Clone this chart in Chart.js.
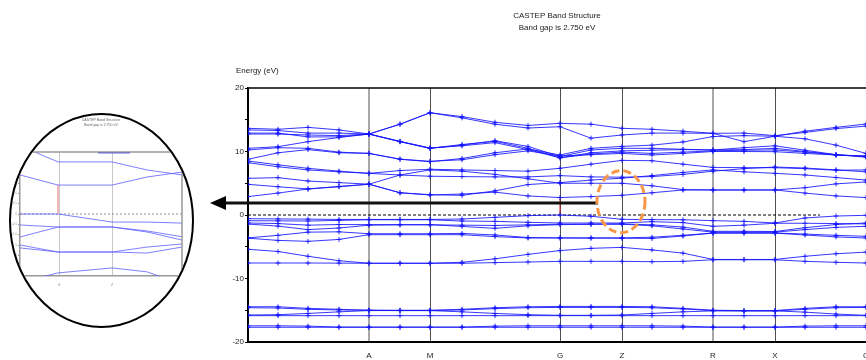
<!DOCTYPE html>
<html>
<head>
<meta charset="utf-8">
<title>CASTEP Band Structure</title>
<script src="https://cdn.jsdelivr.net/npm/chart.js@4.4.1/dist/chart.umd.min.js"></script>
<style>
  html, body { margin: 0; padding: 0; overflow: hidden; background: #fff; }
  #wrap { position: relative; width: 866px; height: 360px; overflow: hidden; }
  #main { position: absolute; left: 0; top: 0; }
  #ylabel { position: absolute; left: 236px; top: 66px; font: 8px 'Liberation Sans', Arial, sans-serif; color: #222; white-space: nowrap; }
  #inset { position: absolute; left: 9px; top: 113px; width: 181px; height: 211px; border: 2px solid #000; border-radius: 50%; overflow: hidden; background: #fff; }
  #insetChart { position: absolute; left: 0; top: 0; }
</style>
</head>
<body>
<div id="wrap">
  <canvas id="main" width="880" height="360"></canvas>
  <div id="ylabel">Energy (eV)</div>
  <div id="inset"><canvas id="insetChart" width="181" height="211"></canvas></div>
</div>
<script>
// k-path: high symmetry points and the sampled k positions
const kPos = [0, 121, 182, 312, 374, 465, 527, 618];
const kLabels = ['', 'A', 'M', 'G', 'Z', 'R', 'X', 'G'];
const kGrid = [0, 30, 60, 91, 121, 152, 182, 214, 247, 280, 312, 343, 374, 404, 435, 465, 496, 527, 557, 588, 618];

// conduction bands (eV)
const bandC1 = [13.65, 13.5, 13.8, 13.4, 12.75, 14.3, 16.1, 15.5, 14.6, 14.1, 14.44, 14.3, 13.65, 13.5, 13.2, 12.86, 11.55, 12.4, 13.2, 13.8, 14.33];
const bandC2 = [13.4, 13.3, 12.9, 12.9, 12.75, 11.55, 10.5, 11.0, 11.7, 10.8, 9.2, 10.24, 10.5, 10.5, 10.35, 10.24, 10.6, 10.9, 10.2, 9.5, 9.1];
const bandC3 = [12.9, 12.9, 12.3, 12.3, 12.75, 14.3, 16.1, 15.3, 14.3, 13.7, 13.9, 12.1, 12.6, 12.9, 12.9, 12.86, 12.9, 12.5, 13.0, 13.6, 14.0];
const bandC4 = [12.75, 12.75, 12.6, 12.5, 12.75, 11.55, 10.5, 11.1, 11.6, 10.5, 9.0, 9.8, 10.1, 10.2, 10.3, 10.24, 10.3, 10.5, 10.0, 9.5, 9.2];
const bandC5 = [10.5, 10.76, 11.55, 12.2, 12.75, 11.6, 10.55, 10.9, 11.4, 10.3, 9.0, 9.6, 9.9, 9.7, 9.9, 10.1, 10.2, 10.24, 9.9, 9.45, 9.25];
const bandC6 = [10.24, 10.6, 10.5, 9.9, 9.7, 8.77, 8.4, 8.9, 9.8, 10.4, 9.45, 10.5, 10.8, 11.0, 11.5, 12.35, 12.5, 12.4, 12.0, 11.0, 9.7];
const bandC7 = [8.77, 9.8, 10.3, 9.8, 9.7, 8.8, 8.45, 8.7, 9.5, 10.1, 9.3, 9.5, 9.7, 9.45, 9.7, 10.0, 10.0, 9.97, 9.7, 9.45, 9.3];
const bandC8 = [8.5, 7.9, 7.35, 6.9, 6.56, 7.0, 7.2, 7.1, 7.0, 6.9, 7.35, 8.0, 8.6, 8.55, 8.0, 7.5, 7.45, 7.45, 7.3, 7.05, 7.1];
const bandC9 = [8.24, 7.6, 7.1, 6.8, 6.56, 6.3, 6.1, 6.05, 6.0, 6.0, 6.2, 6.0, 5.95, 6.05, 6.4, 6.9, 7.3, 7.55, 7.4, 7.1, 6.8];
const bandC10 = [5.78, 5.88, 5.35, 5.1, 4.85, 6.3, 7.1, 6.9, 6.4, 5.7, 5.0, 5.0, 5.0, 4.6, 4.0, 3.94, 3.94, 3.94, 4.3, 4.9, 5.2];
const bandC11 = [4.83, 4.45, 4.1, 4.5, 4.85, 3.5, 3.15, 3.3, 3.6, 3.0, 2.75, 2.9, 3.1, 3.5, 3.94, 3.94, 3.94, 3.94, 3.45, 3.0, 2.75];
const bandC12 = [2.9, 3.45, 4.1, 4.45, 4.85, 3.5, 3.2, 3.1, 3.8, 4.8, 5.1, 5.5, 5.8, 6.2, 6.7, 7.1, 6.8, 6.56, 6.3, 5.9, 5.5];

// valence bands (eV)
const bandV1 = [-0.58, -0.62, -0.65, -0.7, -0.7, -0.7, -0.7, -0.63, -0.37, -0.1, 0.0, -0.2, -0.68, -0.73, -0.75, -0.89, -1.0, -1.26, -0.47, -0.16, -0.05];
const bandV2 = [-0.9, -0.92, -0.95, -0.85, -0.75, -0.75, -0.75, -0.95, -1.0, -1.15, -1.26, -1.26, -1.26, -1.05, -1.2, -1.78, -1.6, -1.3, -1.3, -1.35, -1.4];
const bandV3 = [-1.26, -1.35, -1.6, -1.5, -1.52, -1.52, -1.52, -1.8, -2.1, -1.7, -1.52, -1.45, -1.4, -1.55, -1.9, -2.57, -2.57, -2.6, -2.0, -1.5, -1.26];
const bandV4 = [-1.42, -1.75, -2.3, -2.05, -1.6, -1.55, -1.55, -1.6, -1.65, -1.55, -1.45, -1.45, -1.45, -1.7, -2.2, -2.7, -2.7, -2.7, -2.3, -1.95, -1.78];
const bandV5 = [-3.6, -3.2, -2.7, -2.65, -2.95, -2.95, -2.95, -2.9, -3.15, -3.55, -3.6, -3.6, -3.6, -3.5, -3.2, -2.83, -2.83, -2.83, -3.0, -3.2, -3.36];
const bandV6 = [-3.65, -4.0, -4.15, -3.85, -3.1, -3.1, -3.1, -3.1, -3.4, -3.62, -3.62, -3.65, -3.65, -3.7, -3.3, -2.85, -2.85, -2.85, -3.15, -3.45, -3.62];
const bandV7 = [-5.4, -5.75, -6.5, -7.2, -7.6, -7.6, -7.6, -7.45, -6.9, -6.2, -5.6, -5.25, -5.1, -5.5, -6.0, -7.0, -7.0, -7.0, -6.5, -6.1, -5.85];
const bandV8 = [-7.56, -7.56, -7.56, -7.58, -7.6, -7.6, -7.6, -7.6, -7.5, -7.4, -7.3, -7.3, -7.3, -7.35, -7.3, -7.05, -7.05, -7.05, -7.3, -7.45, -7.56];

// semicore bands (eV)
const bandD1 = [-14.45, -14.45, -14.7, -14.85, -15.0, -15.0, -15.0, -14.85, -14.6, -14.45, -14.4, -14.4, -14.4, -14.45, -14.7, -15.0, -15.05, -15.05, -14.7, -14.45, -14.45];
const bandD2 = [-14.6, -14.65, -14.85, -14.95, -15.0, -15.05, -15.05, -14.95, -14.75, -14.6, -14.55, -14.55, -14.55, -14.6, -14.8, -15.05, -15.1, -15.1, -14.85, -14.6, -14.55];
const bandD3 = [-15.75, -15.7, -15.5, -15.25, -15.05, -15.05, -15.05, -15.25, -15.5, -15.7, -15.8, -15.8, -15.75, -15.5, -15.25, -15.1, -15.1, -15.1, -15.3, -15.6, -15.8];
const bandD4 = [-15.85, -15.85, -15.85, -15.85, -15.85, -15.85, -15.85, -15.85, -15.85, -15.85, -15.85, -15.85, -15.85, -15.85, -15.85, -15.85, -15.85, -15.85, -15.85, -15.85, -15.85];
const bandD5 = [-17.45, -17.45, -17.5, -17.65, -17.65, -17.65, -17.65, -17.65, -17.5, -17.45, -17.45, -17.45, -17.45, -17.45, -17.5, -17.65, -17.65, -17.65, -17.5, -17.45, -17.45];
const bandD6 = [-17.68, -17.68, -17.68, -17.68, -17.68, -17.68, -17.68, -17.68, -17.68, -17.68, -17.68, -17.68, -17.68, -17.68, -17.68, -17.68, -17.68, -17.68, -17.68, -17.68, -17.68];

// Fermi level line, band gap marker and the arrow/circle annotations
const fermiK = [0, 572];
const fermiE = [0, 0];
const gapK = [312, 312];
const gapE = [0, 2.75];
const arrowK = [350, -38];
const arrowE = 1.9;
const circleK = 373;
const circleE = 2.1;

// inset (zoom of the gap region)
const insetK = [0, 38, 92, 127, 162];
const insetTicks = [39, 92];
const insetLabels = ['G', 'Z'];
const insetC1 = [3.3, 2.52, 2.52, 2.13, 1.89];
const insetC2 = [1.89, 1.40, 1.40, 1.79, 2.03];
const insetTopK = [78, 110];
const insetTopE = [2.97, 2.97];
const insetV1 = [0, 0, -0.39, -0.39, -0.44];
const insetV2 = [-0.53, -0.63, -0.63, -0.82, -1.10];
const insetV3 = [-1.11, -0.63, -0.63, -0.87, -1.26];
const insetV4 = [-1.50, -1.84, -1.84, -1.89, -1.60];
const insetV5 = [-1.64, -1.84, -1.84, -1.60, -1.45];
const insetV6 = [-3.3, -2.85, -2.61, -2.8, -3.4];
const insetGapK = [38, 38];
const insetGapE = [0.05, 1.4];
const insetFermiK = [0, 162];
const insetFermiE = [0, 0];

const titleLines = ['CASTEP Band Structure', 'Band gap is 2.750 eV'];

Chart.defaults.font.family = "'Liberation Sans', Arial, sans-serif";
Chart.defaults.font.size = 8;
Chart.defaults.color = '#222';

function toPoints(ks, vals) {
  return ks.map((k, i) => ({x: k, y: vals[i]}));
}

const bandColor = 'rgba(20,20,255,0.85)';
const allBands = [bandC1, bandC2, bandC3, bandC4, bandC5, bandC6, bandC7, bandC8, bandC9, bandC10, bandC11, bandC12,
  bandV1, bandV2, bandV3, bandV4, bandV5, bandV6, bandV7, bandV8,
  bandD1, bandD2, bandD3, bandD4, bandD5, bandD6];

const datasets = allBands.map(vals => ({
  data: toPoints(kGrid, vals),
  borderColor: bandColor,
  borderWidth: 1,
  pointStyle: 'cross',
  pointRadius: 2.5,
  pointBorderColor: bandColor,
  pointBorderWidth: 1
}));
datasets.push({
  data: toPoints(fermiK, fermiE),
  borderColor: '#000', borderWidth: 1, borderDash: [3, 2], pointRadius: 0
});
datasets.push({
  data: toPoints(gapK, gapE),
  borderColor: '#e01010', borderWidth: 1, pointRadius: 0
});

// top frame line, the arrow to the inset and the dashed circle
const annotate = {
  id: 'annotate',
  afterDatasetsDraw(chart) {
    const {ctx, chartArea, scales: {x, y}} = chart;
    ctx.save();
    ctx.strokeStyle = '#000';
    ctx.lineWidth = 1.5;
    ctx.beginPath();
    ctx.moveTo(chartArea.left, chartArea.top);
    ctx.lineTo(chartArea.right, chartArea.top);
    ctx.stroke();

    const ay = Math.round(y.getPixelForValue(arrowE));
    const x0 = x.getPixelForValue(arrowK[0]);
    const tip = x.getPixelForValue(arrowK[1]);
    ctx.strokeStyle = '#111';
    ctx.lineWidth = 3;
    ctx.beginPath();
    ctx.moveTo(x0, ay);
    ctx.lineTo(tip + 14, ay);
    ctx.stroke();
    ctx.fillStyle = '#000';
    ctx.beginPath();
    ctx.moveTo(tip, ay);
    ctx.lineTo(tip + 16, ay - 7);
    ctx.lineTo(tip + 16, ay + 7);
    ctx.closePath();
    ctx.fill();

    ctx.strokeStyle = '#f79646';
    ctx.lineWidth = 3;
    ctx.setLineDash([8, 4]);
    ctx.beginPath();
    ctx.ellipse(x.getPixelForValue(circleK), y.getPixelForValue(circleE), 24, 31, 0, 0, Math.PI * 2);
    ctx.stroke();
    ctx.restore();
  }
};

new Chart(document.getElementById('main'), {
  type: 'line',
  data: {datasets},
  options: {
    responsive: false,
    animation: false,
    events: [],
    layout: {padding: {right: 14}},
    plugins: {
      legend: {display: false},
      tooltip: {enabled: false},
      title: {
        display: true,
        text: titleLines,
        fullSize: false,
        color: '#222',
        font: {size: 8, weight: 'normal', lineHeight: 1.45},
        padding: {top: 10, bottom: 54.8}
      }
    },
    scales: {
      x: {
        type: 'linear',
        min: 0,
        max: 618,
        afterBuildTicks: s => { s.ticks = kPos.map(v => ({value: v})); },
        afterFit: s => { s.height = 18; },
        ticks: {autoSkip: false, maxRotation: 0, padding: 9, callback: (v, i) => kLabels[i]},
        grid: {
          drawTicks: false,
          color: c => ['#000', '#a8a8a8', '#505050', '#505050', '#505050', '#a8a8a8', '#505050', '#505050'][c.index],
          lineWidth: c => [1, 2, 1, 1, 1, 2, 1, 1][c.index]
        },
        border: {color: '#000', width: 2}
      },
      y: {
        min: -20,
        max: 20,
        afterFit: s => { s.width = 248; },
        ticks: {stepSize: 5, padding: 1, callback: v => (v % 10 === 0 ? v : '')},
        grid: {drawOnChartArea: false, tickLength: 3, color: '#000'},
        border: {color: '#000', width: 1.5}
      }
    }
  },
  plugins: [annotate]
});

// inset chart
const insetColor = 'rgba(95,95,255,0.8)';
const insetSets = [insetC1, insetC2, insetV1, insetV2, insetV3, insetV4, insetV5, insetV6].map(vals => ({
  data: toPoints(insetK, vals), borderColor: insetColor, borderWidth: 1, pointRadius: 0
}));
insetSets.push({data: toPoints(insetTopK, insetTopE), borderColor: '#2a2aff', borderWidth: 1.5, pointRadius: 0});
insetSets.push({data: toPoints(insetFermiK, insetFermiE), borderColor: '#777', borderWidth: 0.8, borderDash: [2, 2], pointRadius: 0});
insetSets.push({data: toPoints(insetGapK, insetGapE), borderColor: '#f4b8b8', borderWidth: 2, pointRadius: 0});

const insetFrame = {
  id: 'insetFrame',
  afterDatasetsDraw(chart) {
    const {ctx, chartArea} = chart;
    ctx.save();
    ctx.strokeStyle = '#999';
    ctx.lineWidth = 1.5;
    ctx.beginPath();
    ctx.moveTo(chartArea.left, chartArea.top);
    ctx.lineTo(chartArea.right, chartArea.top);
    ctx.lineTo(chartArea.right, chartArea.bottom);
    ctx.stroke();
    ctx.restore();
  }
};

new Chart(document.getElementById('insetChart'), {
  type: 'line',
  data: {datasets: insetSets},
  options: {
    responsive: false,
    animation: false,
    events: [],
    layout: {padding: {right: 10}},
    plugins: {
      legend: {display: false},
      tooltip: {enabled: false},
      title: {
        display: true,
        text: titleLines,
        fullSize: false,
        color: '#666',
        font: {size: 3.5, weight: 'normal', lineHeight: 1.6},
        padding: {top: 2, bottom: 23.8}
      }
    },
    scales: {
      x: {
        type: 'linear',
        min: 0,
        max: 162,
        afterBuildTicks: s => { s.ticks = insetTicks.map(v => ({value: v})); },
        afterFit: s => { s.height = 50; },
        ticks: {autoSkip: false, maxRotation: 0, padding: 7, color: '#888', font: {size: 3.5}, callback: (v, i) => insetLabels[i]},
        grid: {drawTicks: false, color: '#c8c8c8', lineWidth: 1},
        border: {color: '#999', width: 1.5}
      },
      y: {
        min: -3,
        max: 3,
        afterFit: s => { s.width = 9; },
        ticks: {stepSize: 0.5, padding: 1, color: '#999', font: {size: 3}},
        grid: {drawOnChartArea: false, tickLength: 2, color: '#999'},
        border: {color: '#999', width: 1.5}
      }
    }
  },
  plugins: [insetFrame]
});
</script>
</body>
</html>
